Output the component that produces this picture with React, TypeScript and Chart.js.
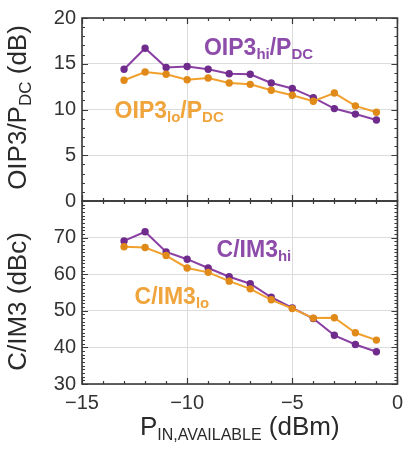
import React, { useEffect, useRef } from "react";
import { Chart, registerables } from "chart.js";

Chart.register(...registerables);

// ---- data ----
const xValues = [-13, -12, -11, -10, -9, -8, -7, -6, -5, -4, -3, -2, -1];
const oip3Hi = [14.4, 16.7, 14.6, 14.7, 14.4, 13.9, 13.85, 12.9, 12.3, 11.3, 10.1, 9.5, 8.85];
const oip3Lo = [13.2, 14.1, 13.85, 13.25, 13.45, 12.9, 12.75, 12.1, 11.55, 10.9, 11.8, 10.4, 9.7];
const cim3Hi = [69.1, 71.6, 66.1, 64.1, 61.7, 59.3, 57.4, 53.7, 50.8, 47.9, 43.3, 40.8, 38.8];
const cim3Lo = [67.5, 67.3, 65.1, 61.7, 60.5, 58.1, 56.0, 53.0, 50.6, 48.0, 48.1, 44.0, 42.0];
const xTicks = [-15, -10, -5, 0];
const topTicks = [0, 5, 10, 15, 20];
const bottomTicks = [30, 40, 50, 60, 70];

const PURPLE = "#8a3fa3";
const PURPLE_PT = "#6f2c8c";
const ORANGE = "#f2a02c";
const ORANGE_PT = "#e08a1a";
const PURPLE_TXT = "#8e4caa";
const ORANGE_TXT = "#f0a43c";
const AXIS = "#3a3a3a";
const FONT = "'Liberation Sans', Arial, sans-serif";

type Seg = { t: string; size: number; bold?: boolean; sub?: boolean };

function drawRich(
  ctx: CanvasRenderingContext2D,
  segs: Seg[],
  x: number,
  y: number,
  align: "left" | "center",
  color: string,
  rotate = false
) {
  ctx.save();
  ctx.fillStyle = color;
  ctx.textBaseline = "middle";
  ctx.textAlign = "left";
  const widths = segs.map((s) => {
    ctx.font = `${s.bold ? "bold " : ""}${s.size}px ${FONT}`;
    return ctx.measureText(s.t).width;
  });
  const total = widths.reduce((a, b) => a + b, 0);
  ctx.translate(x, y);
  if (rotate) ctx.rotate(-Math.PI / 2);
  let cx = align === "center" ? -total / 2 : 0;
  const mainSize = segs[0].size;
  segs.forEach((s, i) => {
    ctx.font = `${s.bold ? "bold " : ""}${s.size}px ${FONT}`;
    const dy = s.sub ? mainSize * 0.28 : 0;
    ctx.fillText(s.t, cx, dy);
    cx += widths[i];
  });
  ctx.restore();
}

const framePlugin = {
  id: "frame",
  afterDraw(chart: any) {
    const ctx: CanvasRenderingContext2D = chart.ctx;
    const x = chart.scales.x;
    const yT = chart.scales.yTop;
    const yB = chart.scales.yBottom;
    const left = chart.chartArea.left;
    const right = chart.chartArea.right;

    const panels = [
      { s: yT, min: 0, max: 20, step: 1, major: 5 },
      { s: yB, min: 30, max: 80, step: 1, major: 10 },
    ];
    ctx.save();
    ctx.strokeStyle = AXIS;
    ctx.lineWidth = 1.2;
    panels.forEach((p) => {
      const top = p.s.top;
      const bottom = p.s.bottom;
      for (let v = p.min; v <= p.max; v += p.step) {
        const py = Math.round(p.s.getPixelForValue(v)) + 0.5;
        const len = v % p.major === 0 ? 6 : 3;
        ctx.beginPath();
        ctx.moveTo(left, py);
        ctx.lineTo(left + len, py);
        ctx.moveTo(right, py);
        ctx.lineTo(right - len, py);
        ctx.stroke();
      }
      for (let v = -15; v <= 0; v += 1) {
        const px = Math.round(x.getPixelForValue(v)) + 0.5;
        const len = v % 5 === 0 ? 6 : 3;
        ctx.beginPath();
        ctx.moveTo(px, bottom);
        ctx.lineTo(px, bottom - len);
        ctx.moveTo(px, top);
        ctx.lineTo(px, top + len);
        ctx.stroke();
      }
      ctx.lineWidth = 1.6;
      ctx.strokeRect(left, top, right - left, bottom - top);
      ctx.lineWidth = 1.2;
    });
    ctx.restore();

    // axis titles
    drawRich(
      ctx,
      [
        { t: "OIP3/P", size: 26 },
        { t: "DC", size: 17, sub: true },
        { t: " (dB)", size: 26 },
      ],
      19,
      (yT.top + yT.bottom) / 2 - 2,
      "center",
      "#2a2a2a",
      true
    );
    drawRich(
      ctx,
      [{ t: "C/IM3 (dBc)", size: 26 }],
      19,
      (yB.top + yB.bottom) / 2 + 9,
      "center",
      "#2a2a2a",
      true
    );
    drawRich(
      ctx,
      [
        { t: "P", size: 26 },
        { t: "IN,AVAILABLE", size: 16, sub: true },
        { t: " (dBm)", size: 26 },
      ],
      (left + right) / 2,
      428,
      "center",
      "#2a2a2a"
    );

    // series labels
    drawRich(
      ctx,
      [
        { t: "OIP3", size: 23, bold: true },
        { t: "hi", size: 15, bold: true, sub: true },
        { t: "/P", size: 23, bold: true },
        { t: "DC", size: 15, bold: true, sub: true },
      ],
      x.getPixelForValue(-9.2),
      yT.getPixelForValue(16.7),
      "left",
      PURPLE_TXT
    );
    drawRich(
      ctx,
      [
        { t: "OIP3", size: 23, bold: true },
        { t: "lo", size: 15, bold: true, sub: true },
        { t: "/P", size: 23, bold: true },
        { t: "DC", size: 15, bold: true, sub: true },
      ],
      x.getPixelForValue(-13.45),
      yT.getPixelForValue(9.8),
      "left",
      ORANGE_TXT
    );
    drawRich(
      ctx,
      [
        { t: "C/IM3", size: 23, bold: true },
        { t: "hi", size: 15, bold: true, sub: true },
      ],
      x.getPixelForValue(-8.6),
      yB.getPixelForValue(66.4),
      "left",
      PURPLE_TXT
    );
    drawRich(
      ctx,
      [
        { t: "C/IM3", size: 23, bold: true },
        { t: "lo", size: 15, bold: true, sub: true },
      ],
      x.getPixelForValue(-12.5),
      yB.getPixelForValue(53.6),
      "left",
      ORANGE_TXT
    );
  },
};

function series(ys: number[]) {
  return xValues.map((x, i) => ({ x, y: ys[i] }));
}

export default function App() {
  const ref = useRef<HTMLCanvasElement | null>(null);
  useEffect(() => {
    document.body.style.margin = "0";
    if (!ref.current) return;
    const tickFont = { family: FONT, size: 20 };
    const mk = (data: number[], axis: string, c: string, pc: string) => ({
      data: series(data),
      yAxisID: axis,
      borderColor: c,
      backgroundColor: pc,
      pointBackgroundColor: pc,
      pointBorderColor: pc,
      pointRadius: 2.7,
      borderWidth: 2,
      tension: 0,
    });
    const chart = new Chart(ref.current, {
      type: "line",
      data: {
        datasets: [
          mk(oip3Lo, "yTop", ORANGE, ORANGE_PT),
          mk(oip3Hi, "yTop", PURPLE, PURPLE_PT),
          mk(cim3Lo, "yBottom", ORANGE, ORANGE_PT),
          mk(cim3Hi, "yBottom", PURPLE, PURPLE_PT),
        ],
      },
      options: {
        responsive: false,
        animation: false,
        layout: { padding: { left: 0, right: 10, top: 17, bottom: 0 } },
        plugins: { legend: { display: false }, tooltip: { enabled: false } },
        scales: {
          x: {
            type: "linear",
            min: -15,
            max: 0,
            afterBuildTicks: (s: any) => {
              s.ticks = xTicks.map((v) => ({ value: v }));
            },
            afterFit: (s: any) => {
              s.height = 65;
            },
            grid: { color: "#dcdcdc", drawTicks: false },
            border: { display: false },
            ticks: {
              font: tickFont,
              color: "#333",
              padding: 7,
              maxRotation: 0,
              callback: (v: any) => (v < 0 ? "\u2212" + Math.abs(v) : String(v)),
            },
          },
          yBottom: {
            type: "linear",
            position: "left",
            stack: "panels",
            stackWeight: 1,
            min: 30,
            max: 80,
            afterBuildTicks: (s: any) => {
              s.ticks = bottomTicks.map((v) => ({ value: v }));
            },
            afterFit: (s: any) => {
              s.width = 82;
            },
            grid: { color: "#dcdcdc", drawTicks: false },
            border: { display: false },
            ticks: { font: tickFont, color: "#333", padding: 6, callback: (v: any) => String(v) },
          },
          yTop: {
            type: "linear",
            position: "left",
            stack: "panels",
            stackWeight: 1,
            min: 0,
            max: 20,
            afterBuildTicks: (s: any) => {
              s.ticks = topTicks.map((v) => ({ value: v }));
            },
            afterFit: (s: any) => {
              s.width = 82;
            },
            grid: { color: "#dcdcdc", drawTicks: false },
            border: { display: false },
            ticks: { font: tickFont, color: "#333", padding: 6, callback: (v: any) => String(v) },
          },
        },
      } as any,
      plugins: [framePlugin],
    });
    return () => chart.destroy();
  }, []);
  return (
    <div style={{ width: 410, height: 449, background: "#fff" }}>
      <canvas ref={ref} width={410} height={449} style={{ display: "block" }} />
    </div>
  );
}
